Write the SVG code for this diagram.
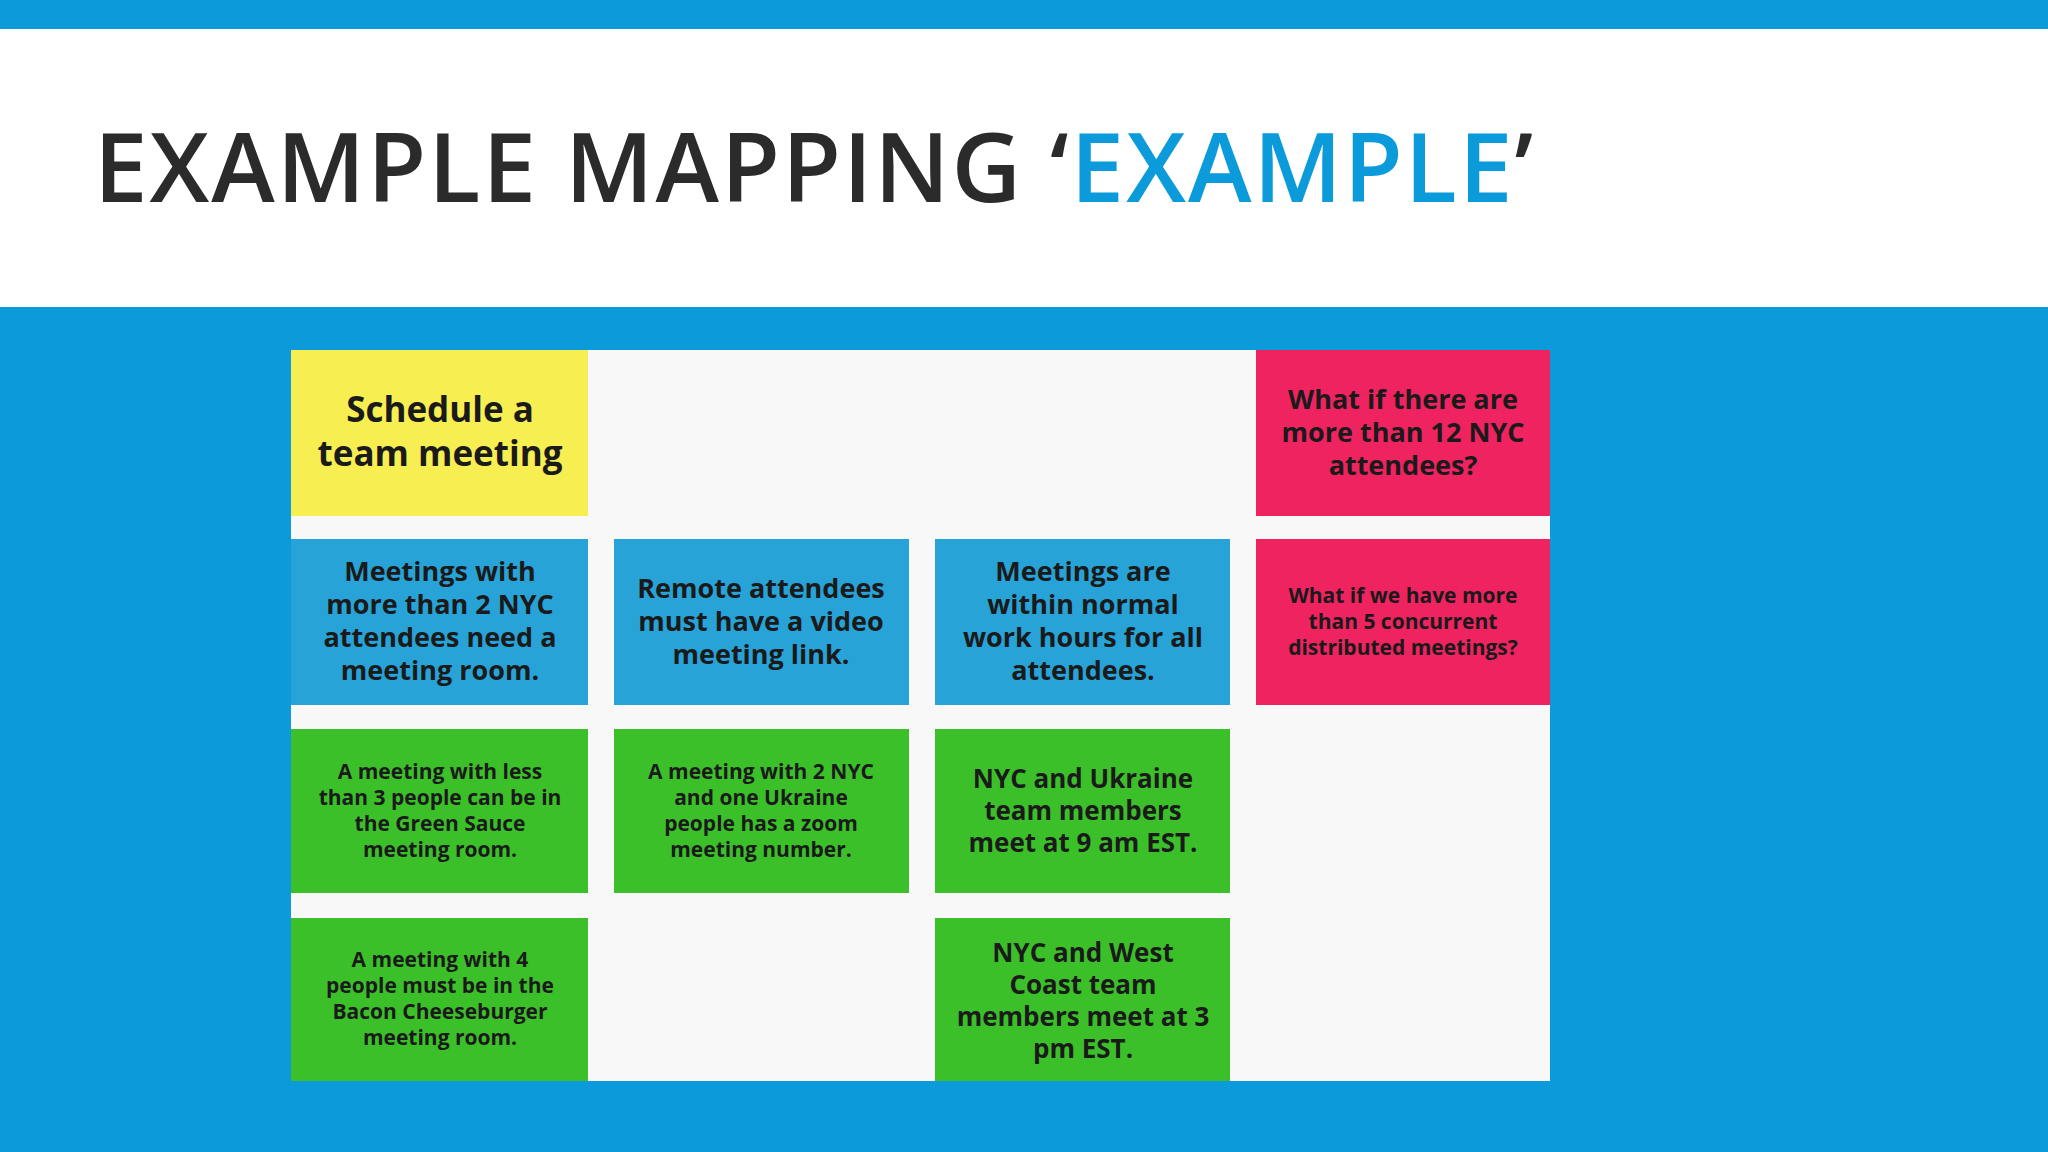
<svg xmlns="http://www.w3.org/2000/svg" width="2048" height="1152" viewBox="0 0 2048 1152">
<style>
.t{font-family:"Open Sans","Liberation Sans",sans-serif;font-weight:bold;fill:#1a1a1a;text-anchor:middle}
.y{fill:#f7ee52}.b{fill:#27a3d7}.g{fill:#3cc02a}.p{fill:#ef2360}
</style>
<rect width="2048" height="1152" fill="#0b9bdb"/>
<rect y="29" width="2048" height="278" fill="#ffffff"/>
<text x="94" y="202" font-family="'Open Sans','Liberation Sans',sans-serif" font-size="96" font-weight="600" fill="#2b2b2b" letter-spacing="2">EXAMPLE MAPPING ‘<tspan fill="#0b9bdb">EXAMPLE</tspan>’</text>
<rect x="291" y="350" width="1259" height="731" fill="#f8f8f8"/>
<g id="n1"><rect class="y" x="291" y="350" width="297" height="166"/><text class="t" font-size="35"><tspan x="440" y="422">Schedule a</tspan><tspan x="440" y="466">team meeting</tspan></text></g>
<g id="n2"><rect class="p" x="1256" y="350" width="294" height="166"/><text class="t" font-size="27"><tspan x="1403" y="409">What if there are</tspan><tspan x="1403" y="442">more than 12 NYC</tspan><tspan x="1403" y="475">attendees?</tspan></text></g>
<g id="n3"><rect class="b" x="291" y="539" width="297" height="166"/><text class="t" font-size="27"><tspan x="440" y="581">Meetings with</tspan><tspan x="440" y="614">more than 2 NYC</tspan><tspan x="440" y="647">attendees need a</tspan><tspan x="440" y="680">meeting room.</tspan></text></g>
<g id="n4"><rect class="b" x="614" y="539" width="295" height="166"/><text class="t" font-size="27"><tspan x="761" y="598">Remote attendees</tspan><tspan x="761" y="631">must have a video</tspan><tspan x="761" y="664">meeting link.</tspan></text></g>
<g id="n5"><rect class="b" x="935" y="539" width="295" height="166"/><text class="t" font-size="27"><tspan x="1083" y="581">Meetings are</tspan><tspan x="1083" y="614">within normal</tspan><tspan x="1083" y="647">work hours for all</tspan><tspan x="1083" y="680">attendees.</tspan></text></g>
<g id="n6"><rect class="p" x="1256" y="539" width="294" height="166"/><text class="t" font-size="21"><tspan x="1403" y="603">What if we have more</tspan><tspan x="1403" y="629">than 5 concurrent</tspan><tspan x="1403" y="655">distributed meetings?</tspan></text></g>
<g id="n7"><rect class="g" x="291" y="729" width="297" height="164"/><text class="t" font-size="21"><tspan x="440" y="779">A meeting with less</tspan><tspan x="440" y="805">than 3 people can be in</tspan><tspan x="440" y="831">the Green Sauce</tspan><tspan x="440" y="857">meeting room.</tspan></text></g>
<g id="n8"><rect class="g" x="614" y="729" width="295" height="164"/><text class="t" font-size="21"><tspan x="761" y="779">A meeting with 2 NYC</tspan><tspan x="761" y="805">and one Ukraine</tspan><tspan x="761" y="831">people has a zoom</tspan><tspan x="761" y="857">meeting number.</tspan></text></g>
<g id="n9"><rect class="g" x="935" y="729" width="295" height="164"/><text class="t" font-size="26"><tspan x="1083" y="788">NYC and Ukraine</tspan><tspan x="1083" y="820">team members</tspan><tspan x="1083" y="852">meet at 9 am EST.</tspan></text></g>
<g id="n10"><rect class="g" x="291" y="918" width="297" height="163"/><text class="t" font-size="21"><tspan x="440" y="967">A meeting with 4</tspan><tspan x="440" y="993">people must be in the</tspan><tspan x="440" y="1019">Bacon Cheeseburger</tspan><tspan x="440" y="1045">meeting room.</tspan></text></g>
<g id="n11"><rect class="g" x="935" y="918" width="295" height="163"/><text class="t" font-size="26"><tspan x="1083" y="962">NYC and West</tspan><tspan x="1083" y="994">Coast team</tspan><tspan x="1083" y="1026">members meet at 3</tspan><tspan x="1083" y="1058">pm EST.</tspan></text></g>
<g id="connectors"/>
</svg>
